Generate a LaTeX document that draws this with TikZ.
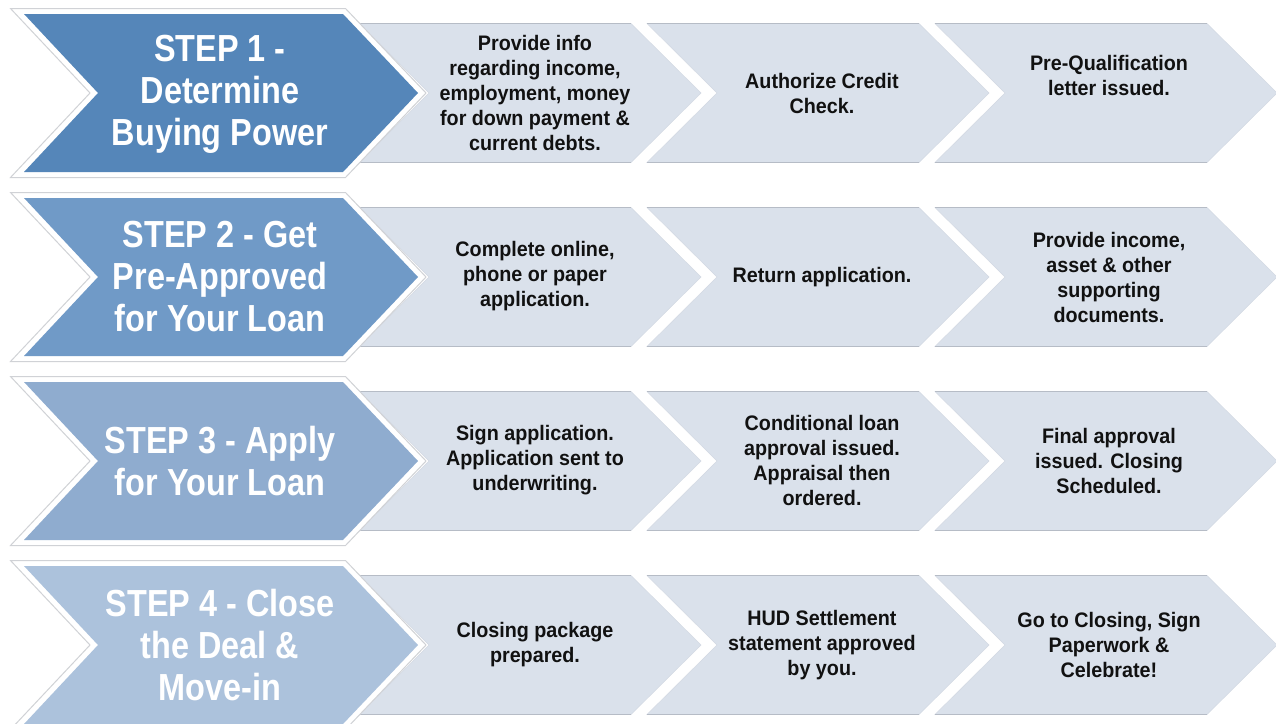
\documentclass[tikz,border=0pt]{standalone}
\usepackage{fontspec}
\newfontfamily\titlefont{Liberation Sans}[FakeStretch=0.86]
\newfontfamily\bodyfont{Liberation Sans}[FakeStretch=0.94]
\definecolor{stepa}{RGB}{85,134,185}
\definecolor{stepb}{RGB}{112,154,199}
\definecolor{stepc}{RGB}{143,172,207}
\definecolor{stepd}{RGB}{172,194,220}
\definecolor{litec}{RGB}{218,225,235}
\definecolor{liteedge}{RGB}{211,217,227}
\definecolor{litetop}{RGB}{182,188,198}
\definecolor{outeredge}{RGB}{208,210,214}
\definecolor{textc}{RGB}{17,17,17}
\tikzset{
  litebox/.style={fill=litec, draw=liteedge, line width=0.5pt, line join=miter},
  liteline/.style={draw=litetop, line width=1pt},
  outerbox/.style={fill=white, draw=outeredge, line width=1pt, line join=miter},
  titletxt/.style={text=white, font=\titlefont\bfseries\fontsize{37.7}{42}\selectfont, align=center, inner sep=0pt},
  bodytxt/.style={text=textc, font=\bodyfont\bfseries\fontsize{21}{25}\selectfont, align=center, inner sep=0pt},
}
\begin{document}
\begin{tikzpicture}[x=1pt,y=-1pt]
\useasboundingbox (0,0) rectangle (1276,723);
\fill[white] (0,0) rectangle (1276,723);
\foreach \c/\col in {93/stepa, 277/stepb, 461/stepc, 645/stepd}{
  % light chevrons
  \foreach \l in {359,647,935}{
    \path[litebox] (\l,\c-69.5) -- (\l+272,\c-69.5) -- (\l+342,\c) -- (\l+272,\c+69.5) -- (\l,\c+69.5) -- (\l+70,\c) -- cycle;
    \draw[liteline] (\l,\c-69.5) -- (\l+272,\c-69.5);
    \draw[liteline] (\l,\c+69.5) -- (\l+272,\c+69.5);
  }
  % outer white frame
  \path[outerbox] (10.5,\c-84.5) -- (345.5,\c-84.5) -- (426,\c) -- (345.5,\c+84.5) -- (10.5,\c+84.5) -- (90,\c) -- cycle;
  % step chevron
  \fill[\col] (24,\c-79) -- (343,\c-79) -- (418,\c) -- (343,\c+79) -- (24,\c+79) -- (98,\c) -- cycle;
}
% Row 1
\node[titletxt] (s1) at (220,94) {STEP 1 -\\Determine\\Buying Power};
\node[bodytxt] (a1) at (535,93) {Provide info\\regarding income,\\employment, money\\for down payment \&\\current debts.};
\node[bodytxt] (b1) at (822,93) {Authorize Credit\\Check.};
\node[bodytxt] (c1) at (1109,75) {Pre-Qualification\\letter issued.};
% Row 2
\node[titletxt] (s2) at (220,277) {STEP 2 - Get\\Pre-Approved\\for Your Loan};
\node[bodytxt] (a2) at (535,276) {Complete online,\\phone or paper\\application.};
\node[bodytxt] (b2) at (822,277) {Return application.};
\node[bodytxt] (c2) at (1109,277) {Provide income,\\asset \& other\\supporting\\documents.};
% Row 3
\node[titletxt] (s3) at (220,461) {STEP 3 - Apply\\for Your Loan};
\node[bodytxt] (a3) at (535,460) {Sign application.\\Application sent to\\underwriting.};
\node[bodytxt] (b3) at (822,460.5) {Conditional loan\\approval issued.\\Appraisal then\\ordered.};
\node[bodytxt] (c3) at (1109,461) {Final approval\\issued. Closing\\Scheduled.};
% Row 4
\node[titletxt] (s4) at (220,645) {STEP 4 - Close\\the Deal \&\\Move-in};
\node[bodytxt] (a4) at (535,645) {Closing package\\prepared.};
\node[bodytxt] (b4) at (822,645) {HUD Settlement\\statement approved\\by you.};
\node[bodytxt] (c4) at (1109,645) {Go to Closing, Sign\\Paperwork \&\\Celebrate!};
\end{tikzpicture}
\end{document}
